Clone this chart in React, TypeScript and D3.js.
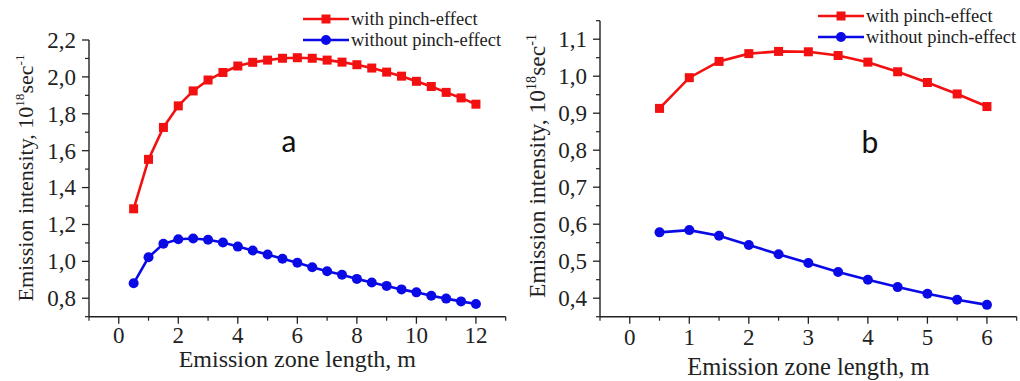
import React from "react";
import * as d3 from "d3";

// ---------- data ----------
const xA = [0.5, 1, 1.5, 2, 2.5, 3, 3.5, 4, 4.5, 5, 5.5, 6, 6.5, 7, 7.5, 8, 8.5, 9, 9.5, 10, 10.5, 11, 11.5, 12];
const withPinchA = [1.285, 1.553, 1.726, 1.843, 1.924, 1.983, 2.024, 2.059, 2.079, 2.091, 2.101, 2.104, 2.101, 2.091, 2.08, 2.066, 2.048, 2.026, 2.004, 1.976, 1.948, 1.916, 1.886, 1.852];
const withoutPinchA = [0.881, 1.022, 1.095, 1.12, 1.124, 1.117, 1.102, 1.08, 1.059, 1.037, 1.014, 0.992, 0.968, 0.946, 0.927, 0.905, 0.885, 0.867, 0.848, 0.832, 0.814, 0.798, 0.783, 0.769];

const xB = [0.5, 1, 1.5, 2, 2.5, 3, 3.5, 4, 4.5, 5, 5.5, 6];
const withPinchB = [0.913, 0.996, 1.04, 1.061, 1.067, 1.066, 1.056, 1.038, 1.012, 0.983, 0.952, 0.918];
const withoutPinchB = [0.578, 0.584, 0.569, 0.544, 0.519, 0.495, 0.471, 0.45, 0.43, 0.412, 0.396, 0.382];

const xTicksA = [0, 2, 4, 6, 8, 10, 12];
const xMinorA = [-1, 1, 3, 5, 7, 9, 11, 13];
const yTicksA = [0.8, 1.0, 1.2, 1.4, 1.6, 1.8, 2.0, 2.2];
const yMinorA = [0.7, 0.9, 1.1, 1.3, 1.5, 1.7, 1.9, 2.1];

const xTicksB = [0, 1, 2, 3, 4, 5, 6];
const xMinorB = [-0.5, 0.5, 1.5, 2.5, 3.5, 4.5, 5.5, 6.5];
const yTicksB = [0.4, 0.5, 0.6, 0.7, 0.8, 0.9, 1.0, 1.1];
const yMinorB = [0.35, 0.45, 0.55, 0.65, 0.75, 0.85, 0.95, 1.05, 1.15];

const seriesNames = ["with pinch-effect", "without pinch-effect"];
const xTitle = "Emission zone length, m";

const RED = "#f21010";
const BLUE = "#0a0ae6";
const SERIF = "Liberation Serif, Tinos, DejaVu Serif, serif";
const fmt = (v: number) => d3.format(".1f")(v).replace(".", ",");

type PanelProps = {
  xs: number[];
  red: number[];
  blue: number[];
  xDomain: [number, number];
  xRange: [number, number];
  yDomain: [number, number];
  yRange: [number, number];
  xTicks: number[];
  xMinor: number[];
  yTicks: number[];
  yMinor: number[];
  tickFont: number;
  yTitleFont: number;
  yTitleX: number;
  yTitleY: number;
  xTitleFont: number;
  xTitleY: number;
  xTickY: number;
  legendX: number;
  legendY: number;
  legendGap: number;
  letter: string;
  letterX: number;
  letterY: number;
};

function Panel(p: PanelProps) {
  const x = d3.scaleLinear().domain(p.xDomain).range(p.xRange);
  const y = d3.scaleLinear().domain(p.yDomain).range(p.yRange);
  const line = d3
    .line<[number, number]>()
    .x((d) => x(d[0]))
    .y((d) => y(d[1]));
  const redPts: [number, number][] = p.xs.map((v, i) => [v, p.red[i]]);
  const bluePts: [number, number][] = p.xs.map((v, i) => [v, p.blue[i]]);
  const x0 = p.xRange[0];
  const y0 = p.yRange[0];
  const axisColor = "#222";
  const sq = 9;
  const serifStyle = { fontFamily: SERIF };
  return (
    <g>
      {/* axes */}
      <line x1={x0} x2={x0} y1={p.yRange[0]} y2={p.yRange[1]} stroke={axisColor} strokeWidth={1.4} />
      <line x1={p.xRange[0]} x2={p.xRange[1]} y1={y0} y2={y0} stroke={axisColor} strokeWidth={1.4} />
      {p.yTicks.map((t) => (
        <g key={"yt" + t}>
          <line x1={x0 - 7} x2={x0} y1={y(t)} y2={y(t)} stroke={axisColor} strokeWidth={1.3} />
          <text x={x0 - 13} y={y(t)} dy="0.34em" textAnchor="end" style={serifStyle} fontSize={p.tickFont} fill="#222">
            {fmt(t)}
          </text>
        </g>
      ))}
      {p.yMinor.map((t) => (
        <line key={"ym" + t} x1={x0 - 4} x2={x0} y1={y(t)} y2={y(t)} stroke={axisColor} strokeWidth={1.2} />
      ))}
      {p.xTicks.map((t) => (
        <g key={"xt" + t}>
          <line x1={x(t)} x2={x(t)} y1={y0} y2={y0 + 7} stroke={axisColor} strokeWidth={1.3} />
          <text x={x(t)} y={p.xTickY} textAnchor="middle" style={serifStyle} fontSize={p.tickFont} fill="#222">
            {t}
          </text>
        </g>
      ))}
      {p.xMinor.map((t) => (
        <line key={"xm" + t} x1={x(t)} x2={x(t)} y1={y0} y2={y0 + 4} stroke={axisColor} strokeWidth={1.2} />
      ))}
      {/* axis titles */}
      <text
        x={(p.xRange[0] + p.xRange[1]) / 2}
        y={p.xTitleY}
        textAnchor="middle"
        style={serifStyle}
        fontSize={p.xTitleFont}
        fill="#222"
      >
        {xTitle}
      </text>
      <text
        transform={`translate(${p.yTitleX},${p.yTitleY}) rotate(-90)`}
        textAnchor="middle"
        style={serifStyle}
        fontSize={p.yTitleFont}
        fill="#222"
      >
        Emission intensity, 10
        <tspan dy={-p.yTitleFont * 0.4} fontSize={p.yTitleFont * 0.6}>18</tspan>
        <tspan dy={p.yTitleFont * 0.4}>sec</tspan>
        <tspan dy={-p.yTitleFont * 0.4} fontSize={p.yTitleFont * 0.6}>-1</tspan>
      </text>
      {/* series */}
      <path d={line(redPts) || ""} fill="none" stroke={RED} strokeWidth={2.6} />
      {redPts.map((d, i) => (
        <rect key={"r" + i} x={x(d[0]) - sq / 2} y={y(d[1]) - sq / 2} width={sq} height={sq} fill={RED} />
      ))}
      <path d={line(bluePts) || ""} fill="none" stroke={BLUE} strokeWidth={2.6} />
      {bluePts.map((d, i) => (
        <circle key={"b" + i} cx={x(d[0])} cy={y(d[1])} r={5} fill={BLUE} />
      ))}
      {/* legend */}
      {[RED, BLUE].map((c, i) => {
        const ly = p.legendY + i * p.legendGap;
        return (
          <g key={"lg" + i}>
            <line x1={p.legendX} x2={p.legendX + 46} y1={ly} y2={ly} stroke={c} strokeWidth={2.6} />
            {i === 0 ? (
              <rect x={p.legendX + 23 - 4.5} y={ly - 4.5} width={9} height={9} fill={c} />
            ) : (
              <circle cx={p.legendX + 23} cy={ly} r={5} fill={c} />
            )}
            <text x={p.legendX + 48} y={ly + 6} style={serifStyle} fontSize={18.5} fill="#222">
              {seriesNames[i]}
            </text>
          </g>
        );
      })}
      <text
        x={p.letterX}
        y={p.letterY}
        textAnchor="middle"
        style={{ fontFamily: "Lato, Open Sans, sans-serif" }}
        fontSize={30}
        fill="#111"
      >
        {p.letter}
      </text>
    </g>
  );
}

export default function App() {
  return (
    <svg
      width={1020}
      height={381}
      viewBox="0 0 1020 381"
      style={{ position: "absolute", left: 0, top: 0, background: "#fff" }}
    >
      <rect width={1020} height={381} fill="#fff" />
      <Panel
        xs={xA}
        red={withPinchA}
        blue={withoutPinchA}
        xDomain={[-1, 13]}
        xRange={[89, 505.7]}
        yDomain={[0.7, 2.2]}
        yRange={[316.7, 40]}
        xTicks={xTicksA}
        xMinor={xMinorA}
        yTicks={yTicksA}
        yMinor={yMinorA}
        tickFont={23}
        yTitleFont={22}
        yTitleX={33}
        yTitleY={178}
        xTitleFont={24}
        xTitleY={367}
        xTickY={343}
        legendX={303}
        legendY={19}
        legendGap={21}
        letter="a"
        letterX={289}
        letterY={152}
      />
      <Panel
        xs={xB}
        red={withPinchB}
        blue={withoutPinchB}
        xDomain={[-0.5, 6.5]}
        xRange={[600, 1016.7]}
        yDomain={[0.35, 1.15]}
        yRange={[316.7, 20.7]}
        xTicks={xTicksB}
        xMinor={xMinorB}
        yTicks={yTicksB}
        yMinor={yMinorB}
        tickFont={23}
        yTitleFont={23.5}
        yTitleX={545}
        yTitleY={166}
        xTitleFont={24.5}
        xTitleY={375}
        xTickY={345}
        legendX={818}
        legendY={16}
        legendGap={21}
        letter="b"
        letterX={870}
        letterY={153}
      />
    </svg>
  );
}
